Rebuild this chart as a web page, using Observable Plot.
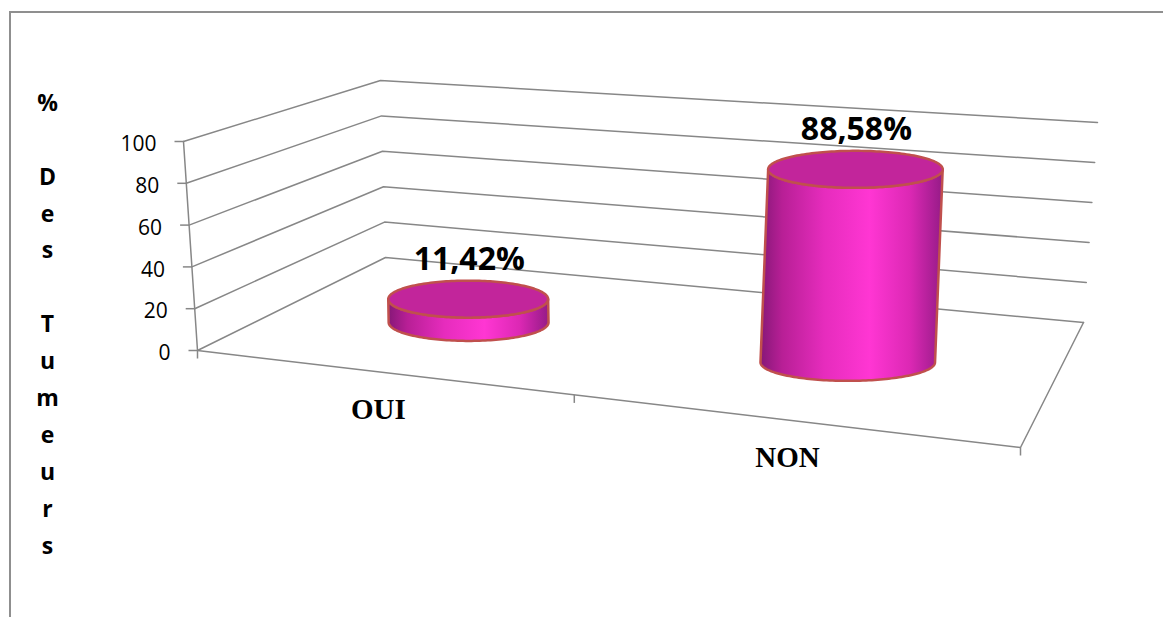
<!DOCTYPE html>
<html>
<head>
<meta charset="utf-8">
<script src="https://cdn.jsdelivr.net/npm/d3@7"></script>
<script src="https://cdn.jsdelivr.net/npm/@observablehq/plot@0.6"></script>
<style>
  html, body { margin: 0; padding: 0; background: #fff; overflow: hidden; }
  #wrap { position: relative; width: 1163px; height: 617px; }
  #frame { position: absolute; left: 9px; top: 11px; width: 1300px; height: 800px;
           border-top: 2px solid #8f8f8f; border-left: 2px solid #8f8f8f; pointer-events: none; }
</style>
</head>
<body>
<div id="wrap"><div id="chart"></div><div id="frame"></div></div>
<script>
// ---------------- data ----------------
const categories = ["OUI", "NON"];
const values = [11.42, 88.58];
const valueLabels = ["11,42%", "88,58%"];
const yTicks = [0, 20, 40, 60, 80, 100];
const yTitle = "% Des Tumeurs";

// ---------------- 3D box layout (screen corners of the plot box) ----------------
const W = 1163, H = 617;
const yMax = 100;
// corners for (u,v) = (0,0) front-left, (1,0) front-right, (1,1) back-right, (0,1) back-left
const floorQuad = [[197, 350], [1020, 447], [1083, 322], [385, 257]];
const topQuad   = [[183, 141], [1035, 204], [1097, 122], [380, 80]];
const depthOfBars = 0.45;
const barShiftX = 9;       // cylinder drawing offset (Excel style)
const barHeightGain = 1.02;

function squareToQuad(q) {
  const [[x0, y0], [x1, y1], [x2, y2], [x3, y3]] = q;
  const dx1 = x1 - x2, dx2 = x3 - x2, dx3 = x0 - x1 + x2 - x3;
  const dy1 = y1 - y2, dy2 = y3 - y2, dy3 = y0 - y1 + y2 - y3;
  const den = dx1 * dy2 - dx2 * dy1;
  const g = (dx3 * dy2 - dx2 * dy3) / den;
  const h = (dx1 * dy3 - dx3 * dy1) / den;
  const a = x1 - x0 + g * x1, b = x3 - x0 + h * x3, c = x0;
  const d = y1 - y0 + g * y1, e = y3 - y0 + h * y3, f = y0;
  return (u, v) => {
    const w = g * u + h * v + 1;
    return [(a * u + b * v + c) / w, (d * u + e * v + f) / w];
  };
}
const floorH = squareToQuad(floorQuad);
const topH = squareToQuad(topQuad);
function P(u, v, val) {
  const p = floorH(u, v), q = topH(u, v), t = val / yMax;
  return [p[0] + (q[0] - p[0]) * t, p[1] + (q[1] - p[1]) * t];
}

const n = categories.length;
const uOf = i => (i + 0.5) / n;

// ---------------- derived mark data ----------------
const gridPts = [];
yTicks.forEach(t => {
  [[0, 0], [0, 1], [1, 1]].forEach(([u, v]) => {
    const [x, y] = P(u, v, t);
    gridPts.push({t, x, y});
  });
});
const floorPts = [[0, 0], [1, 0], [1, 1]].map(([u, v]) => { const [x, y] = P(u, v, 0); return {x, y}; });
const axisPts = [0, yMax].map(t => { const [x, y] = P(0, 0, t); return {x, y}; });
const yTickData = yTicks.map(t => { const [x, y] = P(0, 0, t); return {t, x, y}; });
const catTicks = d3.range(n + 1).map(i => { const [x, y] = P(i / n, 0, 0); return {x, y}; });
const catLabels = categories.map((c, i) => { const [x, y] = P(uOf(i), 0, 0); return {c, x, y}; });

const ry = 18.5;
const cyl = categories.map((c, i) => {
  const u = uOf(i);
  const [xb0, yb] = P(u, depthOfBars, 0);
  const [xt0, yt0] = P(u, depthOfBars, values[i]);
  const xb = xb0 + barShiftX;
  const xt = xb + (xt0 - xb0) * barHeightGain;
  const yt = yb + (yt0 - yb) * barHeightGain;
  const bw = P((i + 1) / n, depthOfBars, 0)[0] - P(i / n, depthOfBars, 0)[0];
  const rx = 36 + 0.125 * bw;
  return {c, i, xb, yb, xt, yt, rx, label: valueLabels[i]};
});
const steps = 90;
function sidePts(d) {
  const pts = [{x: d.xt - d.rx, y: d.yt}, {x: d.xb - d.rx, y: d.yb}];
  for (let k = 0; k <= steps; k++) {
    const th = Math.PI - Math.PI * k / steps;
    pts.push({x: d.xb + d.rx * Math.cos(th), y: d.yb + ry * Math.sin(th)});
  }
  pts.push({x: d.xt + d.rx, y: d.yt});
  for (let k = 0; k <= steps; k++) {
    const th = Math.PI * k / steps;
    pts.push({x: d.xt + d.rx * Math.cos(th), y: d.yt + ry * Math.sin(th)});
  }
  return pts;
}
function topPts(d) {
  const pts = [];
  for (let k = 0; k <= 2 * steps; k++) {
    const th = 2 * Math.PI * k / (2 * steps);
    pts.push({x: d.xt + d.rx * Math.cos(th), y: d.yt + ry * Math.sin(th)});
  }
  return pts;
}

const titleChars = Array.from(yTitle).map((ch, i) => ({ch: ch === " " ? "" : ch, i}));

const gridColor = "#878787";
const edge = "#c0504d";

const cylMarks = [];
cyl.forEach(d => {
  cylMarks.push(Plot.line(sidePts(d), {x: "x", y: "y", fill: "url(#sideGrad)", stroke: edge, strokeWidth: 2.5, strokeLinejoin: "round"}));
  cylMarks.push(Plot.line(topPts(d), {x: "x", y: "y", fill: "#c2259b", stroke: edge, strokeWidth: 2.5, strokeLinejoin: "round"}));
});

const chart = Plot.plot({
  width: W, height: H, margin: 0,
  x: {domain: [0, W], range: [0, W], axis: null},
  y: {domain: [0, H], range: [0, H], axis: null},
  style: {background: "#fff"},
  marks: [
    Plot.line(gridPts, {x: "x", y: "y", z: "t", stroke: gridColor, strokeWidth: 1.5}),
    Plot.line(floorPts, {x: "x", y: "y", stroke: gridColor, strokeWidth: 1.5}),
    Plot.line(axisPts, {x: "x", y: "y", stroke: gridColor, strokeWidth: 1.5}),
    Plot.link(yTickData, {x1: "x", y1: "y", x2: d => d.x - 9, y2: "y", stroke: gridColor, strokeWidth: 1.5}),
    Plot.link(catTicks, {x1: "x", y1: "y", x2: "x", y2: d => d.y + 8, stroke: gridColor, strokeWidth: 1.5}),
    Plot.text(yTickData, {x: d => d.x - 27, y: "y", text: d => String(d.t), textAnchor: "end", lineAnchor: "middle", dy: 3,
      fontFamily: "Open Sans", fontSize: 21, fill: "#000"}),
    ...cylMarks,
    Plot.text(cyl, {x: d => d.xt + 1, y: d => d.yt - ry - 11, text: "label", textAnchor: "middle", lineAnchor: "bottom",
      fontFamily: "Open Sans", fontWeight: "bold", fontSize: 32, fill: "#000"}),
    Plot.text(catLabels, {x: "x", y: d => d.y + 47, text: "c", textAnchor: "middle", lineAnchor: "bottom",
      fontFamily: "Liberation Serif", fontWeight: "bold", fontSize: 29, fill: "#000"}),
    Plot.text(titleChars, {x: 47, y: d => 103 + 36.9 * d.i, text: "ch", textAnchor: "middle", lineAnchor: "middle",
      fontFamily: "Open Sans", fontWeight: "bold", fontSize: 23, fill: "#000"})
  ]
});

chart.insertAdjacentHTML("afterbegin", `
<defs>
  <linearGradient id="sideGrad" x1="0" y1="0" x2="1" y2="0">
    <stop offset="0" stop-color="#861878"/>
    <stop offset="0.12" stop-color="#b81f96"/>
    <stop offset="0.35" stop-color="#e62cbd"/>
    <stop offset="0.6" stop-color="#ff36d3"/>
    <stop offset="0.82" stop-color="#dc28b4"/>
    <stop offset="1" stop-color="#951b87"/>
  </linearGradient>
</defs>`);
document.getElementById("chart").appendChild(chart);
</script>
</body>
</html>
